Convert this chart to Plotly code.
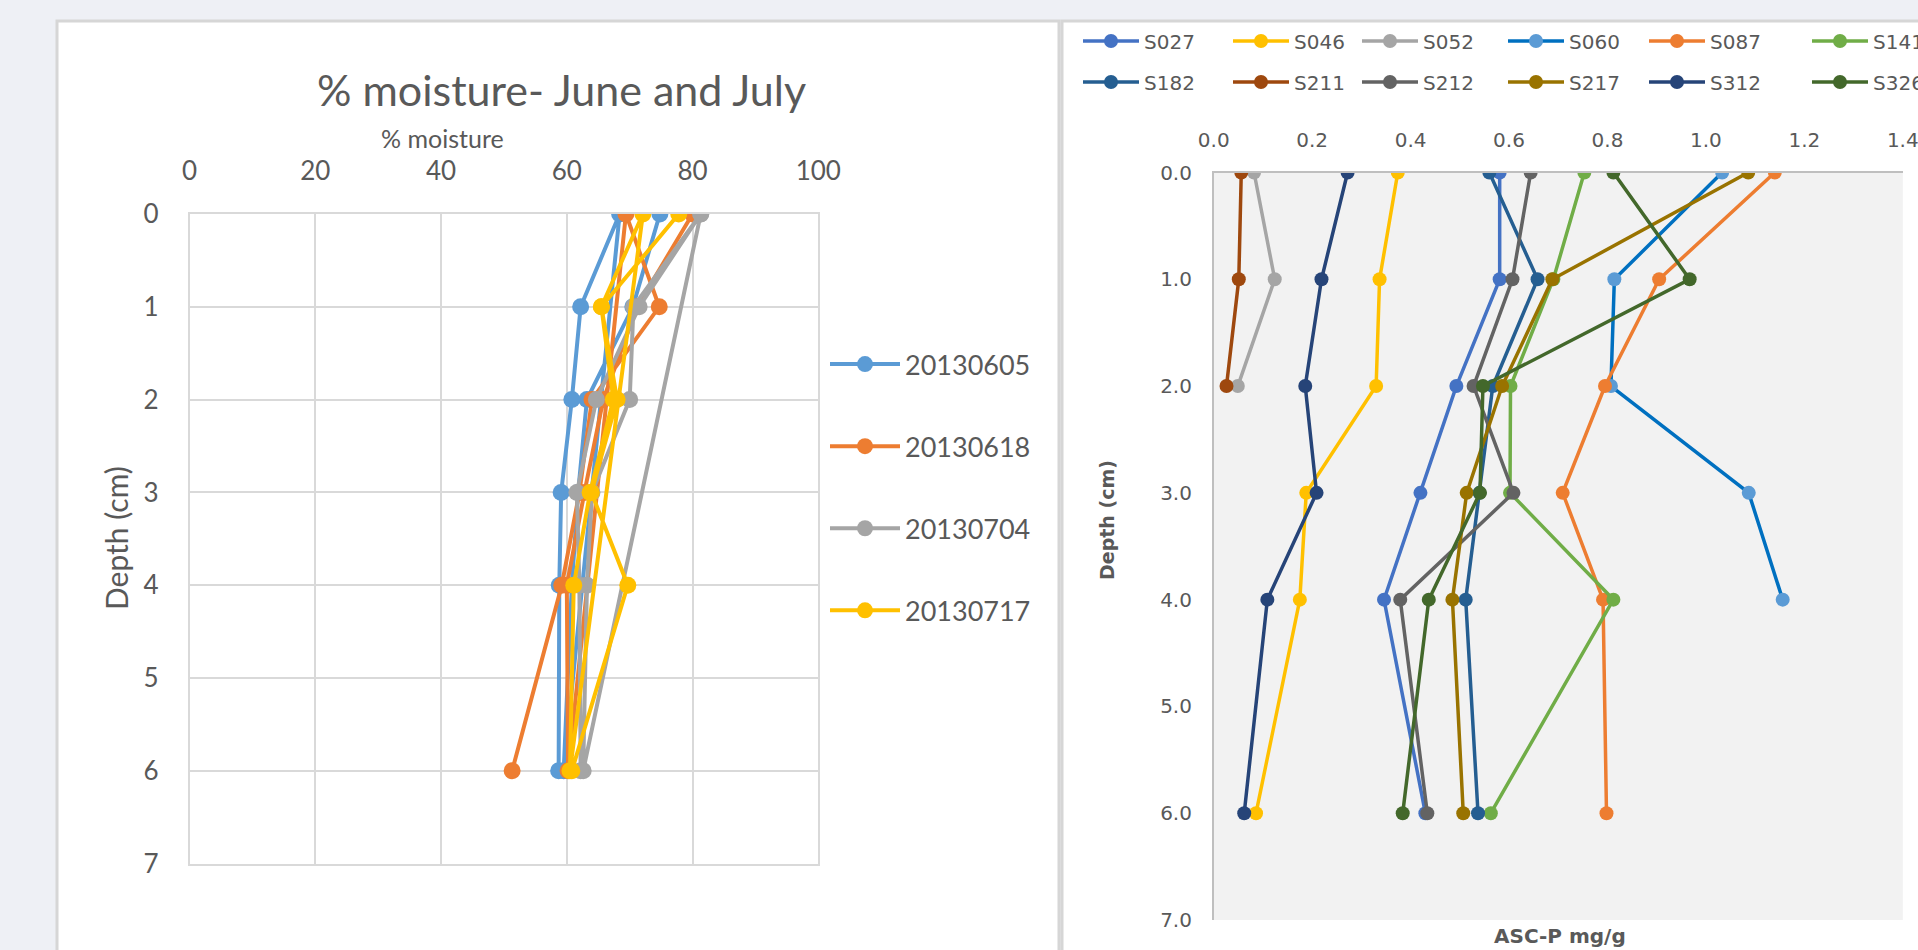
import plotly.graph_objects as go

W, H = 1918, 950

# ---------------- left panel: % moisture profiles (two profiles per date) ----------------
DEPTHS = [0, 1, 2, 3, 4, 6]
moisture_dates = ["20130605", "20130618", "20130704", "20130717"]
moisture_20130605 = [74.8, 70.5, 63.2, 61.8, 60.8, 59.5, 68.4, 62.2, 60.8, 59.1, 58.8, 58.7]
moisture_20130618 = [80.0, 71.2, 65.8, 62.8, 60.0, 60.2, 69.4, 74.7, 64.0, 62.0, 59.2, 51.3]
moisture_20130704 = [81.3, 70.6, 70.0, 64.0, 63.2, 62.6, 81.3, 71.5, 64.7, 61.6, 62.0, 62.2]
moisture_20130717 = [77.8, 65.5, 67.4, 63.7, 61.1, 60.5, 72.1, 65.5, 68.0, 63.9, 69.7, 60.8]
moisture_depths = DEPTHS + DEPTHS
moisture_series = [moisture_20130605, moisture_20130618, moisture_20130704, moisture_20130717]
moisture_colors = ["#5B9BD5", "#ED7D31", "#A5A5A5", "#FFC000"]

# ---------------- right panel: ASC-P by site ----------------
sites = ["S027", "S046", "S052", "S060", "S087", "S141",
         "S182", "S211", "S212", "S217", "S312", "S326"]
ascp_S027 = [0.581, 0.581, 0.493, 0.420, 0.346, 0.430]
ascp_S046 = [0.374, 0.337, 0.330, 0.188, 0.175, 0.086]
ascp_S052 = [0.082, 0.124, 0.049]
ascp_S060 = [1.033, 0.814, 0.807, 1.087, 1.156]
ascp_S087 = [1.140, 0.905, 0.795, 0.709, 0.791, 0.798]
ascp_S141 = [0.753, 0.690, 0.603, 0.602, 0.812, 0.563]
ascp_S182 = [0.560, 0.658, 0.567, 0.540, 0.512, 0.537]
ascp_S211 = [0.056, 0.051, 0.026]
ascp_S212 = [0.644, 0.607, 0.528, 0.609, 0.379, 0.434]
ascp_S217 = [1.086, 0.688, 0.586, 0.514, 0.485, 0.507]
ascp_S312 = [0.272, 0.219, 0.186, 0.209, 0.109, 0.062]
ascp_S326 = [0.812, 0.967, 0.547, 0.541, 0.437, 0.384]
ascp_series = [ascp_S027, ascp_S046, ascp_S052, ascp_S060, ascp_S087, ascp_S141,
               ascp_S182, ascp_S211, ascp_S212, ascp_S217, ascp_S312, ascp_S326]
site_line_colors = ["#4472C4", "#FFC000", "#A5A5A5", "#0070C0", "#ED7D31", "#70AD47",
                    "#255E91", "#9E480E", "#636363", "#997300", "#264478", "#43682B"]
site_marker_colors = ["#4472C4", "#FFC000", "#A5A5A5", "#5B9BD5", "#ED7D31", "#70AD47",
                      "#255E91", "#9E480E", "#636363", "#997300", "#264478", "#43682B"]

GREY_TXT = "#595959"
LEFT_FONT = "Lato"
RIGHT_FONT = "DejaVu Sans"

fig = go.Figure()

for name, vals, col in zip(moisture_dates, moisture_series, moisture_colors):
    fig.add_trace(go.Scatter(
        x=vals, y=moisture_depths, mode="lines+markers", name=name,
        line=dict(color=col, width=4),
        marker=dict(color=col, size=17, line=dict(width=0)),
        xaxis="x", yaxis="y", legend="legend", legendgroup=name,
    ))

# legend positions for the right panel (text start x, row centre y in px)
col_text_x = [1144, 1294, 1423, 1569, 1710, 1873]
row_y = [41, 82]
R_ITEMW = 56

legends = {}
for i, (name, vals) in enumerate(zip(sites, ascp_series)):
    lg = "legend%d" % (i + 2)
    fig.add_trace(go.Scatter(
        x=vals, y=DEPTHS[:len(vals)], mode="lines+markers", name=name,
        line=dict(color=site_line_colors[i], width=3.5),
        marker=dict(color=site_marker_colors[i], size=14, line=dict(width=0)),
        xaxis="x2", yaxis="y2", legend=lg,
    ))
    legends[lg] = dict(
        x=(col_text_x[i % 6] - R_ITEMW - 10) / W, y=1 - row_y[i // 6] / H,
        xanchor="left", yanchor="middle", bgcolor="rgba(0,0,0,0)", itemwidth=R_ITEMW,
        font=dict(family=RIGHT_FONT, size=20, color=GREY_TXT),
    )

shapes = [
    # left panel
    dict(type="rect", xref="paper", yref="paper", x0=57 / W, x1=1059 / W, y0=-0.05, y1=1 - 21 / H,
         fillcolor="white", line=dict(color="#D6D6D6", width=3), layer="below"),
    # right panel
    dict(type="rect", xref="paper", yref="paper", x0=1062 / W, x1=1.05, y0=-0.05, y1=1 - 21 / H,
         fillcolor="white", line=dict(color="#D6D6D6", width=3), layer="below"),
    # right plot area fill
    dict(type="rect", xref="x2 domain", yref="y2 domain", x0=0, x1=1, y0=0, y1=1,
         fillcolor="#F2F2F2", line=dict(width=0), layer="below"),
]


def label(text, x, y, font, angle=0):
    return dict(text=text, x=x / W, y=1 - y / H, xref="paper", yref="paper",
                xanchor="center", yanchor="middle", textangle=angle,
                showarrow=False, font=font)


annotations = [
    label("% moisture- June and July", 561, 89, dict(family=LEFT_FONT, size=43, color=GREY_TXT)),
    label("% moisture", 442, 138, dict(family=LEFT_FONT, size=25, color=GREY_TXT)),
    label("Depth (cm)", 116, 538, dict(family=LEFT_FONT, size=30, color=GREY_TXT), -90),
    label("<b>Depth (cm)</b>", 1107, 520, dict(family=RIGHT_FONT, size=19, color=GREY_TXT), -90),
    label("<b>ASC-P mg/g</b>", 1560, 936, dict(family=RIGHT_FONT, size=20, color=GREY_TXT)),
]

fig.update_layout(
    width=W, height=H,
    margin=dict(l=0, r=0, t=0, b=0, autoexpand=False),
    paper_bgcolor="#EEF0F5", plot_bgcolor="rgba(0,0,0,0)",
    shapes=shapes, annotations=annotations,
    legend=dict(x=825 / W, y=1 - 340 / H, xanchor="left", yanchor="top",
                bgcolor="rgba(0,0,0,0)", tracegroupgap=44, itemwidth=70,
                font=dict(family=LEFT_FONT, size=27, color=GREY_TXT)),
    xaxis=dict(domain=[189.6 / W, 818.3 / W], range=[0, 100], dtick=20, side="top", anchor="y",
               showgrid=True, gridcolor="#D9D9D9", gridwidth=1.5, zeroline=False,
               showline=True, mirror=True, linecolor="#D9D9D9", linewidth=1.5,
               ticks="", ticklabelstandoff=22,
               tickfont=dict(family=LEFT_FONT, size=26, color=GREY_TXT)),
    yaxis=dict(domain=[1 - 863.6 / H, 1 - 214 / H], range=[7, 0], dtick=1, anchor="x",
               showgrid=True, gridcolor="#D9D9D9", gridwidth=1.5, zeroline=False,
               showline=True, mirror=True, linecolor="#D9D9D9", linewidth=1.5,
               ticks="", ticklabelstandoff=24,
               tickfont=dict(family=LEFT_FONT, size=26, color=GREY_TXT)),
    xaxis2=dict(domain=[1213.7 / W, 1902.8 / W], range=[0, 1.4], dtick=0.2, tickformat=".1f",
                side="top", anchor="y2", showgrid=False, zeroline=False,
                showline=True, linecolor="#BFBFBF", linewidth=1.5, ticks="", ticklabelstandoff=16,
                ticklabeloverflow="allow",
                tickfont=dict(family=RIGHT_FONT, size=20, color=GREY_TXT)),
    yaxis2=dict(domain=[1 - 920 / H, 1 - 172.5 / H], range=[7, 0], dtick=1, tickformat=".1f",
                anchor="x2", showgrid=False, zeroline=False,
                showline=True, linecolor="#BFBFBF", linewidth=1.5, ticks="", ticklabelstandoff=16,
                ticklabeloverflow="allow",
                tickfont=dict(family=RIGHT_FONT, size=20, color=GREY_TXT)),
    **legends,
)

fig.write_html("out.html")
